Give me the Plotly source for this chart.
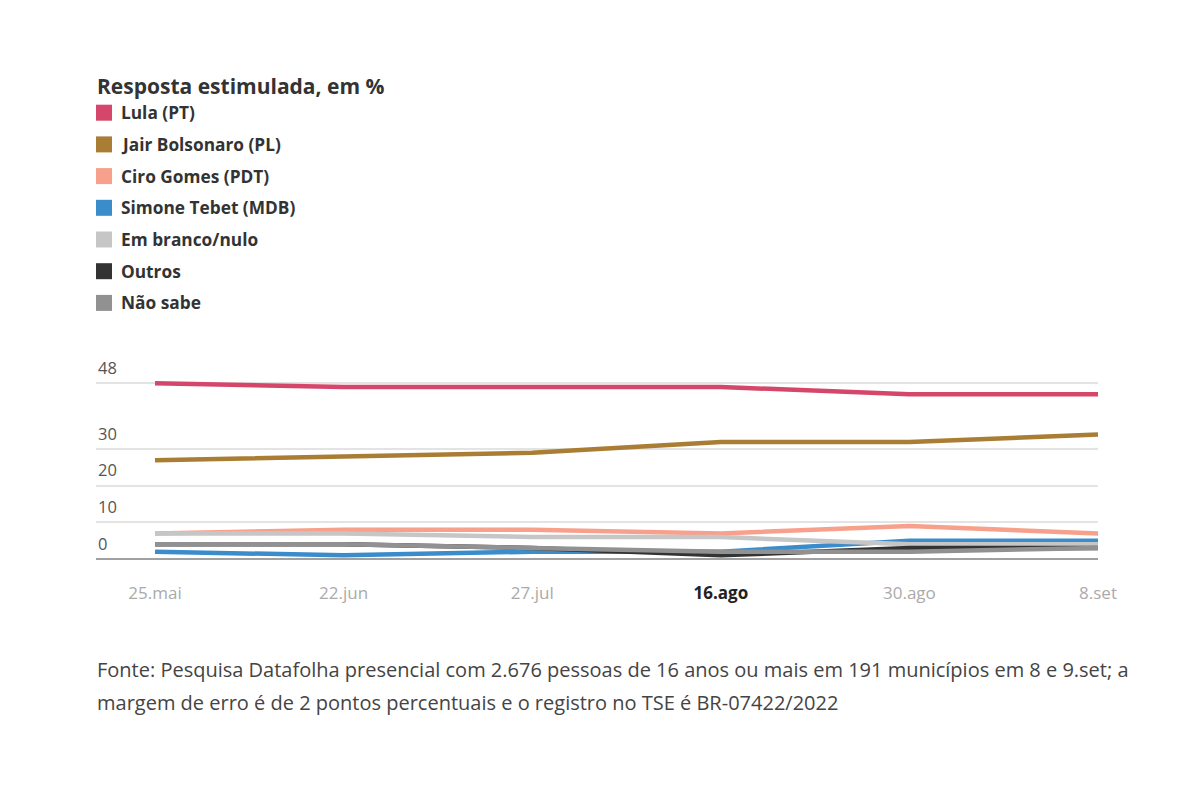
import plotly.graph_objects as go

# ---- data ----
dates = ["25.mai", "22.jun", "27.jul", "16.ago", "30.ago", "8.set"]
lula = [48, 47, 47, 47, 45, 45]
bolsonaro = [27, 28, 29, 32, 32, 34]
ciro = [7, 8, 8, 7, 9, 7]
tebet = [2, 1, 2, 2, 5, 5]
branco_nulo = [7, 7, 6, 6, 4, 4]
outros = [4, 4, 3, 1, 3, 3]
nao_sabe = [4, 4, 3, 2, 2, 3]
y_ticks = [0, 10, 20, 30, 48]
highlight_date = "16.ago"

series_names = ["Lula (PT)", "Jair Bolsonaro (PL)", "Ciro Gomes (PDT)", "Simone Tebet (MDB)",
                "Em branco/nulo", "Outros", "Não sabe"]
series_values = [lula, bolsonaro, ciro, tebet, branco_nulo, outros, nao_sabe]
series_colors = ["#d5476a", "#a97d34", "#f7a08b", "#3a8ccb", "#c6c6c6", "#333333", "#919191"]

title_text = "Resposta estimulada, em %"
source_lines = [
    "Fonte: Pesquisa Datafolha presencial com 2.676 pessoas de 16 anos ou mais em 191 municípios em 8 e 9.set; a",
    "margem de erro é de 2 pontos percentuais e o registro no TSE é BR-07422/2022",
]

# ---- layout geometry (screen pixel targets; page body has an 8px offset) ----
OFF = 8
W, H = 1200, 800
plot_left, plot_right, plot_top, plot_bottom = 96, 1098, 376.3, 559.3
ml = plot_left - OFF
mr = W - (plot_right - OFF)
mt = plot_top - OFF
mb = H - (plot_bottom - OFF)
pw = W - ml - mr
ph = H - mt - mb


def px(x):
    return (x - OFF - ml) / pw


def py(y):
    return (H - mb - (y - OFF)) / ph


FONT = "Open Sans"

fig = go.Figure()
for name, vals, col in zip(series_names, series_values, series_colors):
    fig.add_trace(go.Scatter(
        x=dates, y=vals, name=name, mode="lines",
        line=dict(color=col, width=4.5),
        showlegend=False, hoverinfo="x+y+name",
    ))

ticktext = [
    f"<span style='color:#222222'><b>{d}</b></span>" if d == highlight_date else d for d in dates
]

annotations = []
shapes = []

# title
annotations.append(dict(
    xref="paper", yref="paper", x=px(95), y=py(86), xanchor="left", yanchor="middle",
    text=f"<b>{title_text}</b>", showarrow=False,
    font=dict(family=FONT, size=21, color="#333333"),
))

# legend (manual, squares)
leg_y0 = 113
leg_dy = 31.7
for i, (name, col) in enumerate(zip(series_names, series_colors)):
    yc = leg_y0 + i * leg_dy
    shapes.append(dict(
        type="rect", xref="paper", yref="paper",
        x0=px(96), x1=px(112), y0=py(yc + 8), y1=py(yc - 8),
        fillcolor=col, line=dict(width=0),
    ))
    annotations.append(dict(
        xref="paper", yref="paper", x=px(119), y=py(yc), xanchor="left", yanchor="middle",
        text=f"<b>{name}</b>", showarrow=False,
        font=dict(family=FONT, size=17.3, color="#333333"),
    ))

# y tick labels above gridlines
for t in y_ticks:
    annotations.append(dict(
        xref="paper", yref="y", x=0.0, y=t, xanchor="left", yanchor="middle",
        yshift=16, text=str(t), showarrow=False,
        font=dict(family=FONT, size=16.5, color="#555555"),
    ))

# source
for i, line in enumerate(source_lines):
    annotations.append(dict(
        xref="paper", yref="paper", x=px(95), y=py(670 + i * 33), xanchor="left", yanchor="middle",
        text=line, showarrow=False,
        font=dict(family=FONT, size=20, color="#444444"),
    ))

fig.update_layout(
    width=W, height=H,
    margin=dict(l=ml, r=mr, t=mt, b=mb, pad=0),
    paper_bgcolor="white", plot_bgcolor="white",
    font=dict(family=FONT),
    showlegend=False,
    annotations=annotations,
    shapes=shapes,
    xaxis=dict(
        type="category", range=[-0.313, 5.0],
        tickmode="array", tickvals=dates, ticktext=ticktext,
        showgrid=False, zeroline=False, showline=False, ticks="",
        tickfont=dict(family=FONT, size=17, color="#aaaaaa"),
        ticklabelstandoff=22,
        fixedrange=True,
    ),
    yaxis=dict(
        range=[0, 50], tickmode="array", tickvals=y_ticks,
        showticklabels=False, ticks="",
        showgrid=True, gridcolor="#e3e3e3", gridwidth=2,
        zeroline=True, zerolinecolor="#a0a0a0", zerolinewidth=2,
        showline=False, fixedrange=True,
    ),
)

fig.write_html("out.html")
